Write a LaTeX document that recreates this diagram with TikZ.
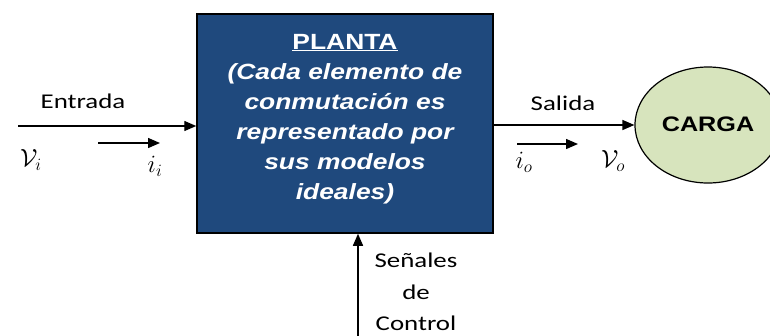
\documentclass[tikz,border=0pt]{standalone}
\usepackage{fontspec}
\setmainfont[FakeStretch=1.28]{Carlito}
\newfontfamily\arialf[FakeStretch=1.2]{Liberation Sans}
\usetikzlibrary{arrows.meta,shapes.geometric}
\definecolor{plantblue}{RGB}{31,73,125}
\definecolor{loadgreen}{RGB}{215,228,189}
\tikzset{
  sig/.style={line width=1.4pt,-{Triangle[length=12pt,width=10pt]}},
  lbl/.style={font=\fontsize{21}{25}\selectfont, inner sep=0pt},
  mlbl/.style={font=\fontsize{25}{30}\selectfont, inner sep=0pt},
}
\begin{document}
\begin{tikzpicture}[x=1pt,y=-1pt]
\useasboundingbox (0,0) rectangle (770,335);
\begin{scope}
\clip (0,0) rectangle (770,335);
\node[draw, line width=1.2pt, fill=loadgreen, ellipse, minimum width=146pt, minimum height=116pt] (carga) at (708,125) {};
\end{scope}
\node[font=\arialf\bfseries\fontsize{21}{25}\selectfont] (cargat) at (708,124) {CARGA};
\node[draw, line width=1.5pt, fill=plantblue, minimum width=296pt, minimum height=219pt, inner sep=0pt] (box) at (345,123.5) {};
\node[text=white, align=center, inner sep=0pt, font=\arialf\bfseries\fontsize{22}{30}\selectfont] (ptext) at (345,119)
  {\underline{PLANTA}\\ \itshape (Cada elemento de\\ \itshape conmutación es\\ \itshape representado por\\ \itshape sus modelos\\ \itshape ideales)};
% input
\coordinate (in) at (18,126);
\draw[sig] (in) -- (in -| box.west);
\node[lbl] (entrada) at (83,101) {Entrada};
\coordinate (ia) at (98,143);
\coordinate (ib) at (160,143);
\draw[sig] (ia) -- (ib);
\node[mlbl] (vi) at (31,160) {$\mathcal{V}_i$};
\node[mlbl] (ii) at (155,166) {$i_i$};
% output
\draw[sig] (box.east |- carga.west) -- (carga.west);
\node[lbl] (salida) at (563,103) {Salida};
\coordinate (oa) at (517,144);
\coordinate (ob) at (578,144);
\draw[sig] (oa) -- (ob);
\node[mlbl] (io) at (524,162) {$i_o$};
\node[mlbl] (vo) at (613,161) {$\mathcal{V}_o$};
% control
\coordinate (ctl) at (358,336);
\draw[sig] (ctl) -- (ctl |- box.south);
\node[lbl, align=center, font=\fontsize{21}{31.5}\selectfont] (sen) at (416,292) {Señales\\de\\Control};
\end{tikzpicture}
\end{document}
